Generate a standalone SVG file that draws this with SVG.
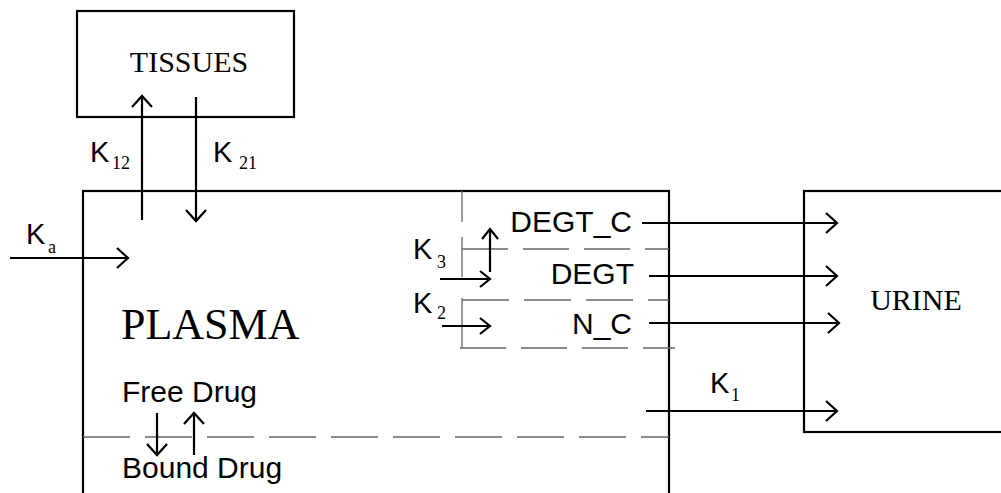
<svg xmlns="http://www.w3.org/2000/svg" width="1001" height="493" viewBox="0 0 1001 493">
<style>
.box{fill:none;stroke:#000;stroke-width:2.2}
.ln{fill:none;stroke:#000;stroke-width:2.2}
.dash{fill:none;stroke:#666;stroke-width:1.3}
.serif{font-family:"Liberation Serif","Times New Roman",serif;fill:#000}
.sans{font-family:"Liberation Sans",Arial,sans-serif;fill:#000}
.k{font-family:"Liberation Sans",Arial,sans-serif;font-size:29px;fill:#000}
.sub{font-family:"Liberation Serif","Times New Roman",serif;font-size:18px;fill:#000}
</style>
<defs>
<marker id="ah" viewBox="-13 -11 15 22" refX="0" refY="0" markerWidth="15" markerHeight="22" markerUnits="userSpaceOnUse" orient="auto">
<path d="M-11,-10 L0,0 L-11,10" fill="none" stroke="#000" stroke-width="2.2"/>
</marker>
<marker id="ahs" viewBox="-13 -11 15 22" refX="0" refY="0" markerWidth="15" markerHeight="22" markerUnits="userSpaceOnUse" orient="auto">
<path d="M-10,-8 L0,0 L-10,8" fill="none" stroke="#000" stroke-width="2.2"/>
</marker>
</defs>
<rect width="1001" height="493" fill="#fff"/>

<g id="tissues">
<rect class="box" x="77" y="11" width="217" height="106"/>
<text class="serif" x="189" y="72" font-size="30" text-anchor="middle">TISSUES</text>
</g>

<g id="plasma">
<rect class="box" x="83" y="191" width="586" height="330"/>
<text class="serif" x="121" y="339" font-size="44">PLASMA</text>
<g id="subcompartments">
<line class="dash" x1="462" y1="191" x2="462" y2="222"/>
<line class="dash" x1="462" y1="237" x2="462" y2="277"/>
<line class="dash" x1="462" y1="298" x2="462" y2="348"/>
<line class="dash" x1="462" y1="249" x2="669" y2="249" stroke-dasharray="46 15"/>
<line class="dash" x1="462" y1="300" x2="669" y2="300" stroke-dasharray="47 15"/>
<line class="dash" x1="460" y1="348" x2="675" y2="348" stroke-dasharray="46 15"/>
<line class="dash" x1="83" y1="437" x2="669" y2="437" stroke-dasharray="47 15"/>
</g>
<text class="sans" x="632" y="232" font-size="30" text-anchor="end">DEGT_C</text>
<text class="sans" x="634" y="284" font-size="30" text-anchor="end">DEGT</text>
<text class="sans" x="632" y="334" font-size="30" text-anchor="end">N_C</text>
<text class="sans" x="122" y="402" font-size="30">Free Drug</text>
<text class="sans" x="122" y="478" font-size="30">Bound Drug</text>
</g>

<g id="urine">
<rect class="box" x="804" y="191" width="210" height="241"/>
<text class="serif" x="916" y="310" font-size="30" text-anchor="middle">URINE</text>
</g>

<g id="connectors">
<line class="ln" x1="142" y1="220" x2="142" y2="96" marker-end="url(#ah)"/>
<line class="ln" x1="196" y1="97" x2="196" y2="221" marker-end="url(#ah)"/>
<line class="ln" x1="10" y1="258" x2="128" y2="258" marker-end="url(#ah)"/>
<line class="ln" x1="490" y1="272" x2="490" y2="229" marker-end="url(#ahs)"/>
<line class="ln" x1="440" y1="279" x2="490" y2="279" marker-end="url(#ahs)"/>
<line class="ln" x1="442" y1="326" x2="490" y2="326" marker-end="url(#ahs)"/>
<line class="ln" x1="642" y1="223" x2="837" y2="223" marker-end="url(#ah)"/>
<line class="ln" x1="649" y1="276" x2="837" y2="276" marker-end="url(#ah)"/>
<line class="ln" x1="649" y1="323" x2="839" y2="323" marker-end="url(#ah)"/>
<line class="ln" x1="646" y1="411" x2="837" y2="411" marker-end="url(#ah)"/>
<line class="ln" x1="157" y1="413" x2="157" y2="455" marker-end="url(#ah)"/>
<line class="ln" x1="194" y1="455" x2="194" y2="413" marker-end="url(#ah)"/>
</g>

<g id="labels">
<text class="k" x="90" y="162">K</text><text class="sub" x="112" y="169">12</text>
<text class="k" x="213" y="162">K</text><text class="sub" x="239" y="169">21</text>
<text class="k" x="26" y="244">K</text><text class="sub" x="48" y="253" font-size="20">a</text>
<text class="k" x="413" y="259">K</text><text class="sub" x="437" y="268">3</text>
<text class="k" x="413" y="313">K</text><text class="sub" x="437" y="319">2</text>
<text class="k" x="710" y="393">K</text><text class="sub" x="731" y="401">1</text>
</g>
</svg>
